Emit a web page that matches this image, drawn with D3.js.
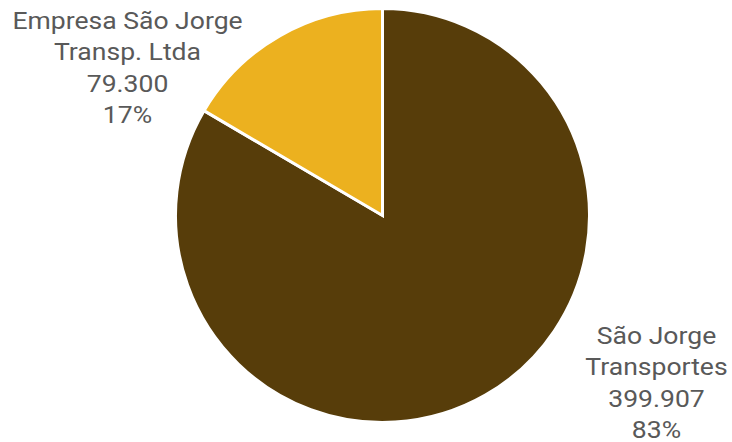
<!DOCTYPE html>
<html><head><meta charset="utf-8">
<script src="https://cdn.jsdelivr.net/npm/d3@7"></script>
<style>body{margin:0;background:#fff}svg{display:block}</style>
</head><body>
<svg id="chart" width="732" height="442"></svg>
<script>
const categories = ["São Jorge Transportes", "Empresa São Jorge Transp. Ltda"];
const values = [399907, 79300];
const labelLines = [["São Jorge", "Transportes", "399.907", "83%"], ["Empresa São Jorge", "Transp. Ltda", "79.300", "17%"]];
const colors = ["#573d0a", "#ecb11f"];

const svg = d3.select("#chart");
const cx = 382.5, cy = 215.5, r = 207;
const g = svg.append("g").attr("transform", `translate(${cx},${cy})`);
const pie = d3.pie().sort(null).value(d => d)(values);
const arc = d3.arc().innerRadius(0).outerRadius(r);
const color = d3.scaleOrdinal().domain(categories).range(colors);
g.selectAll("path").data(pie).join("path")
  .attr("d", arc)
  .attr("fill", (d, i) => color(categories[i]))
  .attr("stroke", "#fff").attr("stroke-width", 3).attr("stroke-linejoin", "miter");

const labelPos = [[656.5 - cx, 343.5 - cy], [127.5 - cx, 28.5 - cy]];
labelLines.forEach((lines, i) => {
  const t = g.append("text")
    .attr("text-anchor", "middle")
    .attr("font-family", "Roboto, sans-serif")
    .attr("font-size", 23.5)
    .attr("fill", "#595959")
    .attr("transform", `translate(${labelPos[i][0]},${labelPos[i][1]}) scale(1.13,1)`);
  lines.forEach((l, j) => t.append("tspan").attr("x", 0).attr("y", j * 31.6).text(l));
});
</script>
</body></html>
